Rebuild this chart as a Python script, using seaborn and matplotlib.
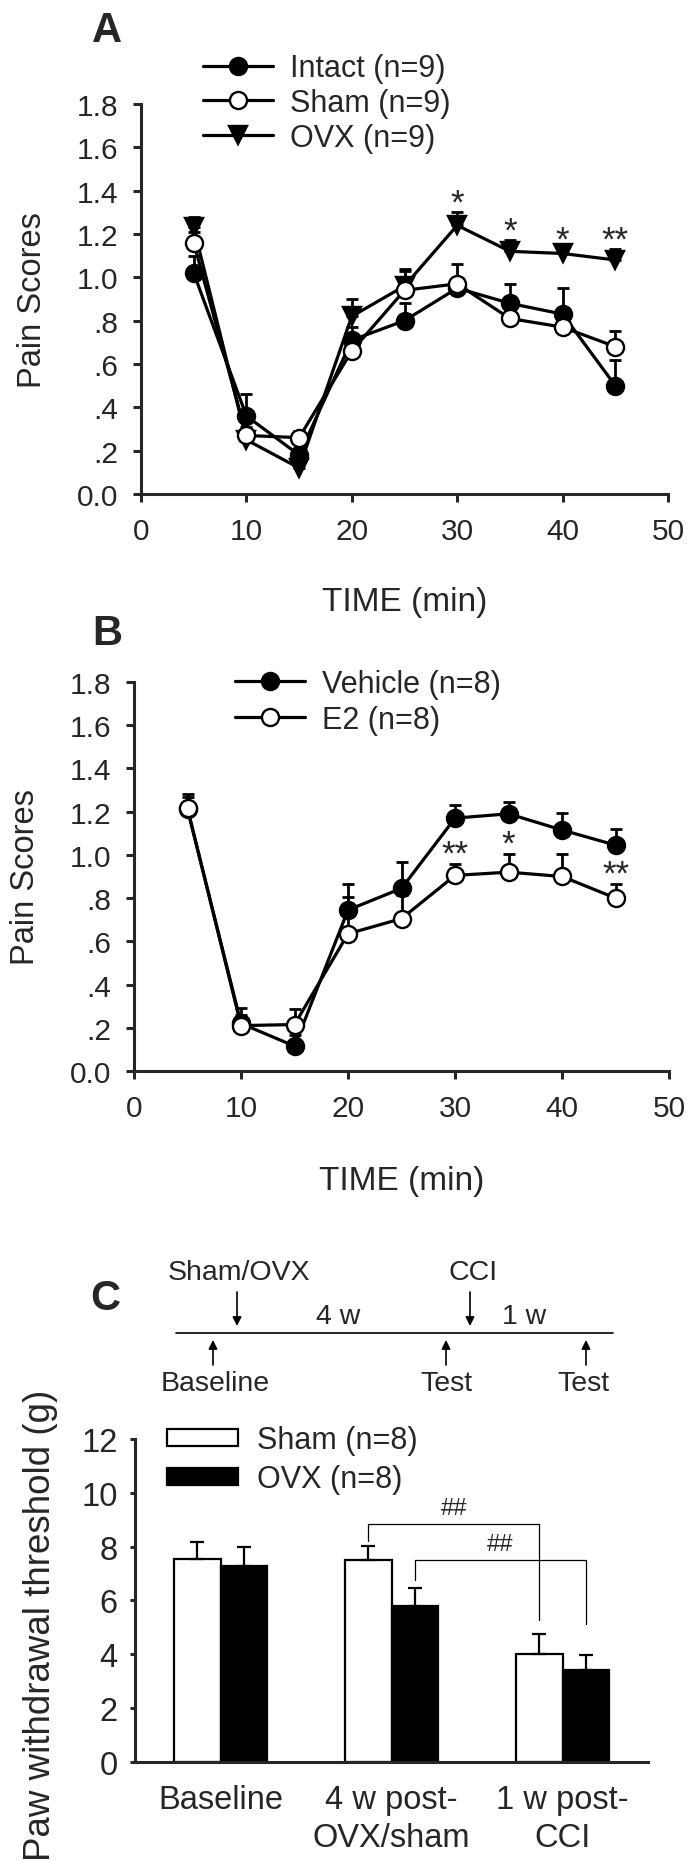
import matplotlib
matplotlib.use("Agg")
import matplotlib.pyplot as plt
import seaborn as sns
import pandas as pd
import numpy as np

# panel A: pain scores, intact / sham / OVX rats
time_min = [5, 10, 15, 20, 25, 30, 35, 40, 45]
intact = [1.02, 0.36, 0.18, 0.71, 0.80, 0.95, 0.88, 0.83, 0.50]
intact_err = [0.08, 0.10, 0.03, 0.06, 0.08, 0.03, 0.09, 0.12, 0.12]
sham = [1.16, 0.27, 0.26, 0.66, 0.94, 0.97, 0.81, 0.77, 0.68]
sham_err = [0.05, 0.04, 0.03, 0.04, 0.09, 0.09, 0.04, 0.05, 0.07]
ovx = [1.23, 0.25, 0.12, 0.82, 0.96, 1.24, 1.12, 1.11, 1.08]
ovx_err = [0.05, 0.03, 0.03, 0.08, 0.08, 0.06, 0.05, 0.02, 0.05]
stars_a = {30: '*', 35: '*', 40: '*', 45: '**'}

# panel B: vehicle vs E2
vehicle = [1.21, 0.22, 0.115, 0.745, 0.845, 1.17, 1.19, 1.115, 1.045]
vehicle_err = [0.06, 0.07, 0.05, 0.12, 0.12, 0.06, 0.055, 0.08, 0.075]
e2 = [1.215, 0.21, 0.215, 0.635, 0.705, 0.905, 0.92, 0.90, 0.80]
e2_err = [0.065, 0.05, 0.07, 0.17, 0.11, 0.055, 0.085, 0.105, 0.065]
stars_b = {30: '**', 35: '*', 45: '**'}

score_ticks = [0.0, 0.2, 0.4, 0.6, 0.8, 1.0, 1.2, 1.4, 1.6, 1.8]
score_ticklabels = ['0.0', '.2', '.4', '.6', '.8', '1.0', '1.2', '1.4', '1.6', '1.8']
time_ticks = [0, 10, 20, 30, 40, 50]

# panel C: paw withdrawal threshold
phases = ['Baseline', '4 w post-\nOVX/sham', '1 w post-\nCCI']
bar_groups = ['Sham (n=8)', 'OVX (n=8)']
sham_pwt = [7.54, 7.49, 4.01]
sham_pwt_err = [0.64, 0.52, 0.75]
ovx_pwt = [7.28, 5.78, 3.42]
ovx_pwt_err = [0.71, 0.68, 0.54]
pwt_ticks = [0, 2, 4, 6, 8, 10, 12]

sns.set_style('ticks')
plt.rcParams['font.family'] = ['Liberation Sans', 'DejaVu Sans']
plt.rcParams['axes.linewidth'] = 2.2

fig = plt.figure(figsize=(6.97, 18.65), dpi=100)
ax_a = fig.add_axes([0.2023, 0.7346, 0.7561, 0.2091])
ax_b = fig.add_axes([0.1923, 0.4252, 0.7676, 0.2086])
ax_c = fig.add_axes([0.1937, 0.0547, 0.7360, 0.1732])


def draw_series(ax, values, errs, label, marker, face, z):
    df = pd.DataFrame({'time': time_min, 'score': values})
    ax.errorbar(time_min, values, yerr=[np.zeros(len(errs)), errs], fmt='none',
                ecolor='black', elinewidth=2.0, capsize=4.5, capthick=2.0, zorder=2)
    sns.lineplot(data=df, x='time', y='score', ax=ax, color='black', linewidth=2.3,
                 marker=marker, markersize=12.3 if marker == 'o' else 13.5,
                 markerfacecolor=face, markeredgecolor='black', markeredgewidth=1.7,
                 label=label, zorder=z, errorbar=None)


def style_score_axis(ax, ylab_x, xlab_y):
    ax.set_xlim(0, 50)
    ax.set_ylim(0, 1.8)
    ax.set_xticks(time_ticks)
    ax.set_yticks(score_ticks)
    ax.set_yticklabels(score_ticklabels)
    ax.tick_params(axis='both', direction='out', length=5.5, width=2.2, labelsize=21.5)
    ax.tick_params(axis='y', pad=11)
    ax.tick_params(axis='x', pad=11)
    ax.set_xlabel('TIME (min)', fontsize=24)
    ax.set_ylabel('Pain Scores', fontsize=23.5)
    ax.yaxis.set_label_coords(ylab_x, 0.5)
    ax.xaxis.set_label_coords(0.5, xlab_y)
    sns.despine(ax=ax)
    for sp in ['left', 'bottom']:
        ax.spines[sp].set_linewidth(2.2)


def add_stars(ax, values, errs, stars):
    for t, s in stars.items():
        i = time_min.index(t)
        ax.annotate(s, (t, values[i] + errs[i]), xytext=(0, 0), textcoords='offset points',
                    ha='center', va='baseline', fontsize=25)


# ---- A ----
draw_series(ax_a, intact, intact_err, 'Intact (n=9)', 'o', 'black', 3)
draw_series(ax_a, sham, sham_err, 'Sham (n=9)', 'o', 'white', 5)
draw_series(ax_a, ovx, ovx_err, 'OVX (n=9)', 'v', 'black', 4)
add_stars(ax_a, ovx, ovx_err, stars_a)
style_score_axis(ax_a, -0.176, -0.236)
ax_a.legend(loc='upper left', bbox_to_anchor=(0.2912, 0.9708), bbox_transform=fig.transFigure,
            frameon=False, fontsize=22, borderpad=0, borderaxespad=0,
            handlelength=2.3, handletextpad=0.55, labelspacing=0.15)

# ---- B ----
draw_series(ax_b, vehicle, vehicle_err, 'Vehicle (n=8)', 'o', 'black', 3)
draw_series(ax_b, e2, e2_err, 'E2 (n=8)', 'o', 'white', 4)
add_stars(ax_b, e2, e2_err, stars_b)
style_score_axis(ax_b, -0.174, -0.242)
ax_b.legend(loc='upper left', bbox_to_anchor=(0.3372, 0.6408), bbox_transform=fig.transFigure,
            frameon=False, fontsize=22, borderpad=0, borderaxespad=0,
            handlelength=2.3, handletextpad=0.55, labelspacing=0.2)

# ---- C ----
df_c = pd.DataFrame({
    'phase': phases * 2,
    'pwt': sham_pwt + ovx_pwt,
    'group': [bar_groups[0]] * 3 + [bar_groups[1]] * 3,
})
sns.barplot(data=df_c, x='phase', y='pwt', hue='group', hue_order=bar_groups,
            palette={bar_groups[0]: 'white', bar_groups[1]: 'black'}, saturation=1,
            edgecolor='black', linewidth=1.6, width=0.54, errorbar=None, legend=False, ax=ax_c)

centers = {}
for g, cont, errs in zip(bar_groups, ax_c.containers, [sham_pwt_err, ovx_pwt_err]):
    for k, (bar, e) in enumerate(zip(cont, errs)):
        xc = bar.get_x() + bar.get_width() / 2
        top = bar.get_height()
        centers[(g, k)] = (xc, top + e)
        ax_c.errorbar(xc, top, yerr=[[0], [e]], fmt='none', ecolor='black',
                      elinewidth=1.6, capsize=4.8, capthick=1.6, zorder=3)


def bracket(ax, a, b, y, drop_a, drop_b, label):
    xa, ta = centers[a]
    xb, tb = centers[b]
    ax.plot([xa, xa, xb, xb], [ta + drop_a, y, y, tb + drop_b], color='black', lw=0.9)
    ax.annotate(label, ((xa + xb) / 2, y), xytext=(0, 7), textcoords='offset points',
                ha='center', va='baseline', fontsize=17)


bracket(ax_c, (bar_groups[0], 1), (bar_groups[0], 2), 8.85, 0.2, 0.5, '##')
bracket(ax_c, (bar_groups[1], 1), (bar_groups[1], 2), 7.5, 0.3, 1.17, '##')

ax_c.set_xlim(-0.5, 2.5)
ax_c.set_ylim(0, 12)
ax_c.set_yticks(pwt_ticks)
ax_c.set_xlabel('')
ax_c.set_ylabel('Paw withdrawal threshold (g)', fontsize=26.5)
ax_c.yaxis.set_label_coords(-0.150, 0.427)
ax_c.tick_params(axis='y', direction='out', length=3.6, width=2.2, labelsize=23.5, pad=9)
ax_c.tick_params(axis='x', length=0, labelsize=23.5, pad=16)
for lbl in ax_c.get_xticklabels():
    lbl.set_linespacing(1.3)
sns.despine(ax=ax_c)
ax_c.legend(list(ax_c.containers), bar_groups, loc='upper left',
            bbox_to_anchor=(0.2396, 0.2354), bbox_transform=fig.transFigure,
            frameon=False, fontsize=22, borderpad=0, borderaxespad=0,
            handlelength=2.33, handleheight=0.47, handletextpad=0.62, labelspacing=0.3)

# ---- overlay: panel letters and protocol timeline (pixel coordinates) ----
ax_t = fig.add_axes([0, 0, 1, 1])
ax_t.set_xlim(0, 697)
ax_t.set_ylim(1865, 0)
ax_t.axis('off')

for letter, (lx, ly) in {'A': (107, 42), 'B': (107, 645), 'C': (105, 1310)}.items():
    ax_t.text(lx, ly, letter, fontsize=30, fontweight='bold', ha='center', va='baseline')

ax_t.plot([176, 613], [1334, 1334], color='black', lw=1.2)
arrow = dict(arrowstyle='-|>', color='black', lw=1.2, mutation_scale=13, shrinkA=0, shrinkB=0)
for x in [237, 470]:
    ax_t.annotate('', xy=(x, 1327), xytext=(x, 1293), arrowprops=arrow)
for x in [213, 446, 586]:
    ax_t.annotate('', xy=(x, 1341), xytext=(x, 1366), arrowprops=arrow)

tl_font = 20.5
ax_t.text(239, 1280, 'Sham/OVX', fontsize=tl_font, ha='center', va='baseline')
ax_t.text(473, 1280, 'CCI', fontsize=tl_font, ha='center', va='baseline')
ax_t.text(338, 1324, '4 w', fontsize=tl_font, ha='center', va='baseline')
ax_t.text(524, 1324, '1 w', fontsize=tl_font, ha='center', va='baseline')
ax_t.text(215, 1391, 'Baseline', fontsize=tl_font, ha='center', va='baseline')
ax_t.text(446, 1391, 'Test', fontsize=tl_font, ha='center', va='baseline')
ax_t.text(583, 1391, 'Test', fontsize=tl_font, ha='center', va='baseline')

fig.savefig('out.png', dpi=100, facecolor='white')
